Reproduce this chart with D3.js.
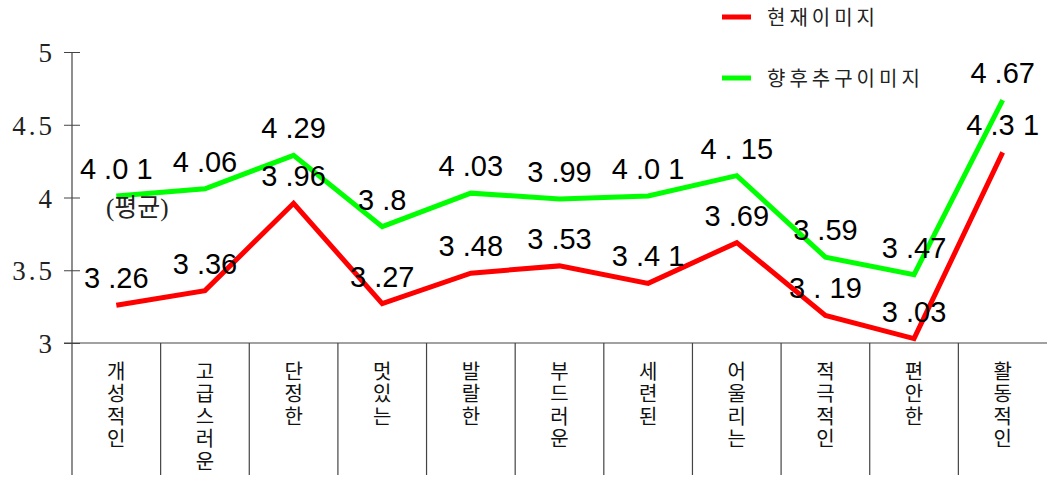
<!DOCTYPE html>
<html><head><meta charset="utf-8">
<script src="https://cdn.jsdelivr.net/npm/d3@7"></script>
<style>
html,body{margin:0;padding:0;background:#fff;}
svg{display:block;}
</style></head>
<body>
<svg id="chart" width="1047" height="477"></svg>
<script>
const categories = ["개성적인","고급스러운","단정한","멋있는","발랄한","부드러운","세련된","어울리는","적극적인","편안한","활동적인"];
const currentImage = [3.26,3.36,3.96,3.27,3.48,3.53,3.41,3.69,3.19,3.03,4.31];
const futureImage = [4.01,4.06,4.29,3.8,4.03,3.99,4.01,4.15,3.59,3.47,4.67];
const yTicks = [3,3.5,4,4.5,5];
const seriesNames = ["현재이미지","향후추구이미지"];
const seriesColors = ["#ff0000","#00ff00"];
const avgNote = "(평균)";

const svg = d3.select("#chart");
const x = d3.scaleBand().domain(categories).range([72,1047]).padding(0);
const y = d3.scaleLinear().domain([3,5]).range([343,52]);
const axisColor = "#444";

// y axis
const yAxis = d3.axisLeft(y).tickValues(yTicks).tickSize(0).tickPadding(0).tickFormat(d=>String(d));
const ya = svg.append("g").attr("transform","translate(72,0)").call(yAxis);
ya.select(".domain").remove();
ya.selectAll("text").attr("x",-17).attr("dy","0.36em")
  .style("font-family","'Liberation Serif','DejaVu Serif',serif").style("font-size","27px")
  .style("letter-spacing","3px").style("fill","#222");
ya.selectAll(".tick").append("line").attr("x1",-8).attr("x2",8).attr("stroke",axisColor).attr("stroke-width",1);
svg.append("line").attr("x1",72).attr("x2",72).attr("y1",y(5)).attr("y2",475).attr("stroke",axisColor).attr("stroke-width",1.2);

// x axis baseline
svg.append("line").attr("x1",64).attr("x2",1047).attr("y1",y(3)).attr("y2",y(3)).attr("stroke",axisColor).attr("stroke-width",1.2);

// cell dividers
svg.append("g").selectAll("line").data(categories.slice(1)).join("line")
  .attr("x1",d=>x(d)).attr("x2",d=>x(d)).attr("y1",y(3)).attr("y2",475)
  .attr("stroke",axisColor).attr("stroke-width",1.2);

// category labels vertical
svg.append("g").selectAll("text").data(categories).join("text")
  .attr("x",d=>x(d)+x.bandwidth()/2).attr("y",361)
  .style("writing-mode","vertical-rl").style("text-orientation","upright")
  .style("letter-spacing","2.5px")
  .style("font-family","'Noto Sans CJK KR',sans-serif").style("font-size","20px").style("fill","#111")
  .text(d=>d);

// lines
const line = d3.line().x((d,i)=>x(categories[i])+x.bandwidth()/2).y(d=>y(d));
[currentImage,futureImage].forEach((s,k)=>{
  svg.append("path").datum(s).attr("d",line).attr("fill","none")
    .attr("stroke",seriesColors[k]).attr("stroke-width",5).attr("stroke-linejoin","miter");
});

// value labels
const fmt = v => String(v).replace(".", " .").replace(/1/g,"\u2009\u200a1");
const labG = svg.append("g");
[currentImage,futureImage].forEach(s=>{
  s.forEach((v,i)=>{
    labG.append("text").attr("x",x(categories[i])+x.bandwidth()/2).attr("y",y(v)-17)
      .attr("text-anchor","middle")
      .style("font-family","'Liberation Sans',Arial,sans-serif").style("font-size","29px").style("fill","#000")
      .style("white-space","pre").attr("xml:space","preserve")
      .text(fmt(v));
  });
});

// (평균)
svg.append("text").attr("x",x(categories[0])+x.bandwidth()/2+21).attr("y",y(futureImage[0])+20)
  .attr("text-anchor","middle")
  .style("font-family","'Liberation Serif','Noto Sans CJK KR',serif").style("font-size","25px").style("fill","#222")
  .text(avgNote);

// legend
const leg = svg.append("g");
seriesNames.forEach((n,k)=>{
  const ly = 17 + k*61;
  leg.append("line").attr("x1",722).attr("x2",751).attr("y1",ly).attr("y2",ly)
    .attr("stroke",seriesColors[k]).attr("stroke-width",5);
  leg.append("text").attr("x",767).attr("y",ly+8)
    .style("font-family","'Noto Sans CJK KR',sans-serif").style("font-size","20px")
    .style("letter-spacing","4px").style("fill","#222").text(n);
});
</script>
</body></html>
